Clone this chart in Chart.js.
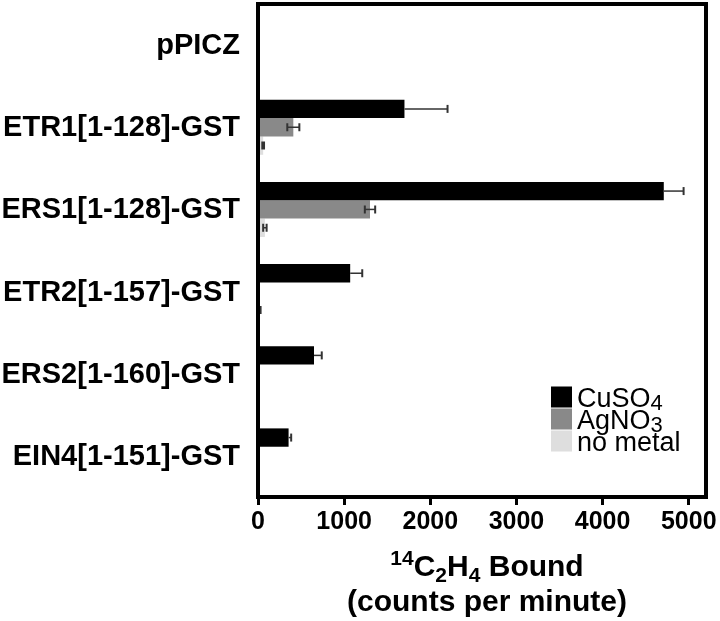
<!DOCTYPE html>
<html>
<head>
<meta charset="utf-8">
<script src="https://cdn.jsdelivr.net/npm/chart.js@4.4.1/dist/chart.umd.min.js"></script>
<style>
  body { margin: 0; background: #fff; }
  #wrap { position: relative; width: 720px; height: 621px; }
  #titulo {
    position: absolute; left: 287px; top: 548px; width: 400px;
    text-align: center; font: bold 30px "Liberation Sans", Arial, sans-serif;
    line-height: 35px; color: #000;
  }
  #titulo sup, #titulo sub { font-size: 21px; vertical-align: 0; position: relative; line-height: 0; }
  #titulo sup { top: -11px; }
  #titulo sub { top: 6px; }
</style>
</head>
<body>
<div id="wrap">
  <canvas id="grafico" width="720" height="621"></canvas>
  <div id="titulo"><sup>14</sup>C<sub>2</sub>H<sub>4</sub> Bound<br>(counts per minute)</div>
</div>
<script>
// ===== Dados =====
const categorias = ['pPICZ', 'ETR1[1-128]-GST', 'ERS1[1-128]-GST', 'ETR2[1-157]-GST', 'ERS2[1-160]-GST', 'EIN4[1-151]-GST'];
const cuso4 = [0, 1700, 4710, 1070, 650, 355];
const cuso4Erro = [0, 500, 230, 140, 90, 30];
const agno3 = [0, 410, 1300, 0, 0, 0];
const agno3Erro = [0, 70, 60, 0, 0, 0];
const semMetal = [0, 60, 80, 20, 0, 0];
const semMetalErro = [0, 10, 20, 10, 0, 0];
const xTicks = [0, 1000, 2000, 3000, 4000, 5000];
const xMax = 5200;

const FONTE = '"Liberation Sans", Arial, sans-serif';

// ===== Plugin: barras de erro =====
const errorBarsPlugin = {
  id: 'errorBars',
  afterDatasetsDraw(chart) {
    const { ctx, scales: { x } } = chart;
    ctx.save();
    ctx.strokeStyle = '#333';
    chart.data.datasets.forEach((ds, i) => {
      const meta = chart.getDatasetMeta(i);
      meta.data.forEach((bar, j) => {
        const erro = ds.erros[j];
        if (!erro) return;
        const v = ds.data[j];
        const x1 = ds.doisLados ? x.getPixelForValue(Math.max(0, v - erro)) : x.getPixelForValue(v);
        const x2 = x.getPixelForValue(v + erro);
        ctx.lineWidth = 1.5;
        ctx.beginPath();
        ctx.moveTo(x1, bar.y);
        ctx.lineTo(x2, bar.y);
        ctx.stroke();
        ctx.lineWidth = 2;
        ctx.beginPath();
        ctx.moveTo(x2, bar.y - 4);
        ctx.lineTo(x2, bar.y + 4);
        if (ds.doisLados && v - erro > 0) {
          ctx.moveTo(x1, bar.y - 4);
          ctx.lineTo(x1, bar.y + 4);
        }
        ctx.stroke();
      });
    });
    ctx.restore();
  },
};

// ===== Plugin: moldura e legenda dentro da área =====
const molduraPlugin = {
  id: 'moldura',
  afterDraw(chart) {
    const { ctx, chartArea: { left, right, top, bottom } } = chart;
    ctx.save();
    ctx.strokeStyle = '#000';
    ctx.lineWidth = 4;
    ctx.strokeRect(left, top, right - left, bottom - top);

    // legenda
    const qx = right - 155;
    const lado = 21;
    chart.data.datasets.forEach((ds, i) => {
      const cy = bottom - 100 + i * 22;
      ctx.fillStyle = ds.backgroundColor;
      ctx.fillRect(qx, cy - lado / 2, lado, lado);
      ctx.fillStyle = '#000';
      ctx.textBaseline = 'alphabetic';
      ctx.textAlign = 'left';
      const m = ds.label.match(/^(.*?)(\d*)$/);
      ctx.font = '27px ' + FONTE;
      ctx.fillText(m[1], qx + 26, cy + 10);
      if (m[2]) {
        const w = ctx.measureText(m[1]).width;
        ctx.font = '22px ' + FONTE;
        ctx.fillText(m[2], qx + 26 + w, cy + 13);
      }
    });
    ctx.restore();
  },
};

new Chart(document.getElementById('grafico'), {
  type: 'bar',
  data: {
    labels: categorias,
    datasets: [
      { label: 'CuSO4', data: cuso4, erros: cuso4Erro, doisLados: false, backgroundColor: '#000000' },
      { label: 'AgNO3', data: agno3, erros: agno3Erro, doisLados: true, backgroundColor: '#898989' },
      { label: 'no metal', data: semMetal, erros: semMetalErro, doisLados: true, backgroundColor: '#dedede' },
    ],
  },
  options: {
    indexAxis: 'y',
    responsive: false,
    animation: false,
    categoryPercentage: 0.67,
    barPercentage: 1,
    layout: { padding: { top: 4, right: 14, left: 0, bottom: 0 } },
    plugins: { legend: { display: false }, tooltip: { enabled: false } },
    scales: {
      x: {
        min: 0,
        max: xMax,
        afterBuildTicks: (s) => { s.ticks = xTicks.map((v) => ({ value: v })); },
        afterFit: (s) => { s.height = 124; s.paddingLeft = 0; s.paddingRight = 0; },
        border: { display: false },
        grid: { drawOnChartArea: false, drawTicks: true, tickLength: 8, lineWidth: 3, color: '#000' },
        ticks: {
          padding: 2,
          color: '#000',
          callback: (v) => String(v),
          font: { family: FONTE, size: 25, weight: 'bold' },
        },
      },
      y: {
        afterFit: (s) => { s.width = 258; s.paddingTop = 0; s.paddingBottom = 0; },
        border: { display: false },
        grid: { display: false },
        ticks: {
          padding: 10,
          labelOffset: 1,
          color: '#000',
          font: { family: FONTE, size: 29, weight: 'bold' },
        },
      },
    },
  },
  plugins: [errorBarsPlugin, molduraPlugin],
});
</script>
</body>
</html>
